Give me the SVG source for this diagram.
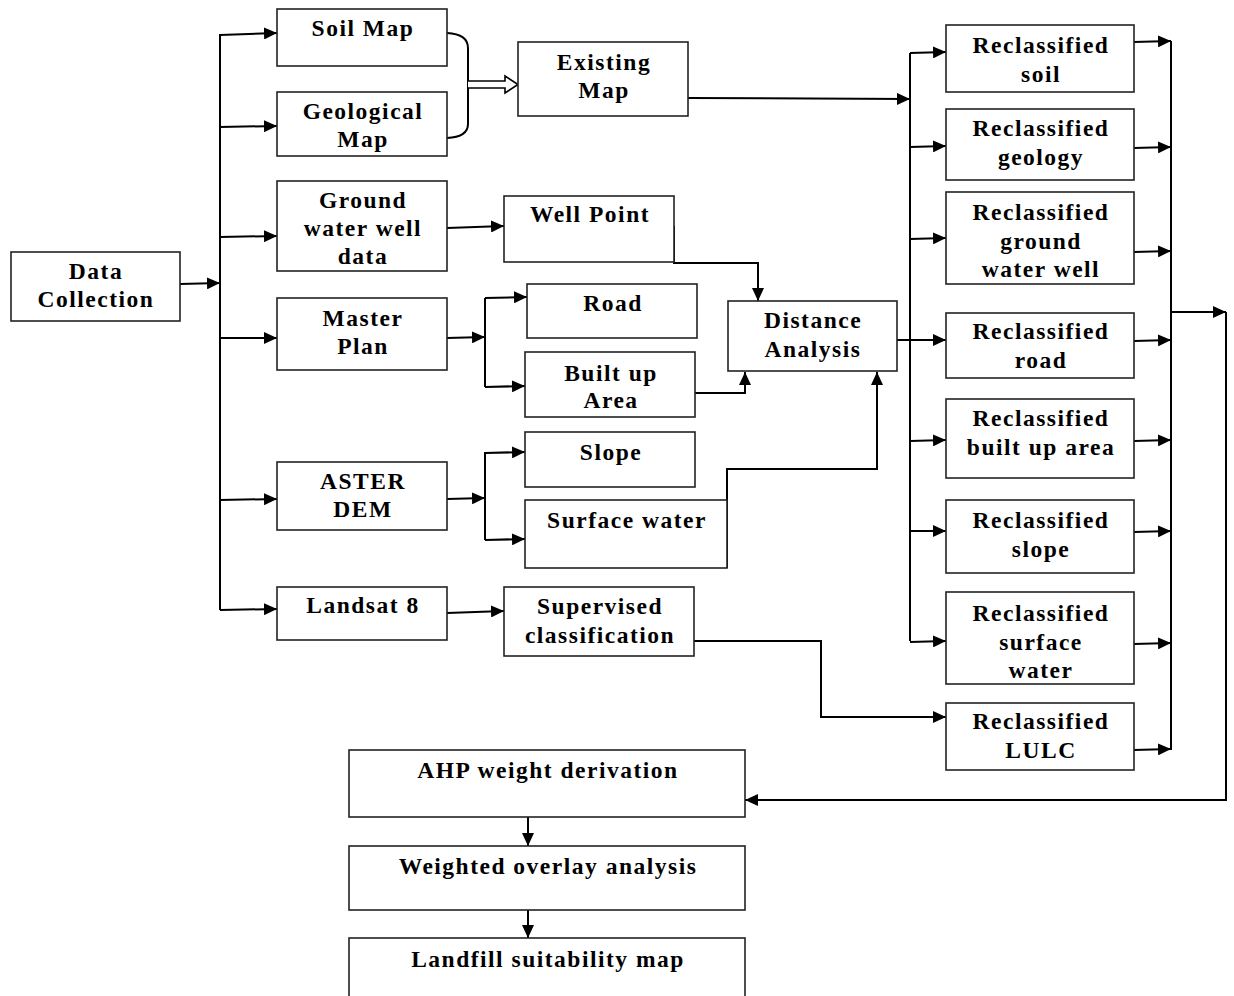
<svg xmlns="http://www.w3.org/2000/svg" width="1234" height="996" viewBox="0 0 1234 996">
<style>
.box{fill:#fff;stroke:#222;stroke-width:1.6}
.t{font-family:"Liberation Serif","Times New Roman",serif;font-weight:bold;font-size:23.5px;letter-spacing:1.5px;text-anchor:middle;fill:#000}
.c{fill:none;stroke:#000;stroke-width:2}
.a{fill:none;stroke:#000;stroke-width:2;marker-end:url(#ah)}
</style>
<defs>
<marker id="ah" markerUnits="userSpaceOnUse" markerWidth="13" markerHeight="12" refX="13" refY="6" orient="auto">
<path d="M0,0 L13,6 L0,12 z" fill="#000"/>
</marker>
</defs>
<rect width="1234" height="996" fill="#fff"/>
<g id="connectors">
<path class="a" d="M180,284 L220,283"/>
<path class="c" d="M220,34 L220,610"/>
<path class="a" d="M220,35 L277,33"/>
<path class="a" d="M220,127 L277,126"/>
<path class="a" d="M220,237 L277,236"/>
<path class="a" d="M220,338 L277,338"/>
<path class="a" d="M220,500 L277,499"/>
<path class="a" d="M220,610 L277,609"/>
<path class="c" d="M447,33 Q468,34 468,48 L468,124 Q468,137 447,138"/>
<path d="M468,81 L505,81 L505,76 L518,84.5 L505,93 L505,88 L468,88" fill="#fff" stroke="#000" stroke-width="1.6"/>
<path class="a" d="M688,98 L910,99"/>
<path class="a" d="M447,228 L504,226"/>
<path class="a" d="M447,338 L485,337"/>
<path class="c" d="M485,298 L485,387"/>
<path class="a" d="M485,298 L527,297"/>
<path class="a" d="M485,387 L525,386"/>
<path class="a" d="M447,499 L485,498"/>
<path class="c" d="M485,452 L485,540"/>
<path class="a" d="M485,453 L525,452"/>
<path class="a" d="M485,540 L525,539"/>
<path class="a" d="M447,613 L504,611"/>
<path class="a" d="M674,226 L674,263 L758,263 L758,301"/>
<path class="a" d="M695,393 L745,393 L745,372"/>
<path class="a" d="M727,568 L727,469 L877,469 L877,372"/>
<path class="a" d="M694,641 L821,641 L821,717 L946,717"/>
<path class="a" d="M897,340 L946,340"/>
<path class="c" d="M910,53 L910,641"/>
<path class="a" d="M910,53 L946,52"/>
<path class="a" d="M910,147 L946,146"/>
<path class="a" d="M910,239 L946,238"/>
<path class="a" d="M910,441 L946,440"/>
<path class="a" d="M910,531 L946,531"/>
<path class="a" d="M910,642 L946,641"/>
<path class="a" d="M1134,42 L1171,41"/>
<path class="a" d="M1134,148 L1171,147"/>
<path class="a" d="M1134,252 L1171,251"/>
<path class="a" d="M1134,341 L1171,340"/>
<path class="a" d="M1134,441 L1171,440"/>
<path class="a" d="M1134,532 L1171,531"/>
<path class="a" d="M1134,644 L1171,643"/>
<path class="a" d="M1134,750 L1171,749"/>
<path class="c" d="M1171,41 L1171,750"/>
<path class="a" d="M1171,312 L1226,312"/>
<path class="a" d="M1226,312 L1226,800 L745,800"/>
<path class="a" d="M528,817 L528,846"/>
<path class="a" d="M528,910 L528,938"/>
</g>
<g id="data-collection"><rect class="box" x="11" y="252" width="169" height="69"/><text class="t" x="96" y="279">Data</text><text class="t" x="96" y="307">Collection</text></g>
<g id="soil-map"><rect class="box" x="277" y="9" width="170" height="57"/><text class="t" x="363" y="36">Soil Map</text></g>
<g id="geological-map"><rect class="box" x="277" y="92" width="170" height="64"/><text class="t" x="363" y="119">Geological</text><text class="t" x="363" y="147">Map</text></g>
<g id="groundwater-data"><rect class="box" x="277" y="181" width="170" height="90"/><text class="t" x="363" y="208">Ground</text><text class="t" x="363" y="236">water well</text><text class="t" x="363" y="264">data</text></g>
<g id="master-plan"><rect class="box" x="277" y="298" width="170" height="72"/><text class="t" x="363" y="326">Master</text><text class="t" x="363" y="354">Plan</text></g>
<g id="aster-dem"><rect class="box" x="277" y="462" width="170" height="68"/><text class="t" x="363" y="489">ASTER</text><text class="t" x="363" y="517">DEM</text></g>
<g id="landsat"><rect class="box" x="277" y="587" width="170" height="53"/><text class="t" x="363" y="613">Landsat 8</text></g>
<g id="existing-map"><rect class="box" x="518" y="42" width="170" height="74"/><text class="t" x="604" y="70">Existing</text><text class="t" x="604" y="98">Map</text></g>
<g id="well-point"><rect class="box" x="504" y="196" width="170" height="66"/><text class="t" x="590" y="222">Well Point</text></g>
<g id="road"><rect class="box" x="527" y="284" width="170" height="54"/><text class="t" x="613" y="311">Road</text></g>
<g id="built-up"><rect class="box" x="525" y="352" width="170" height="65"/><text class="t" x="611" y="381">Built up</text><text class="t" x="611" y="408">Area</text></g>
<g id="slope"><rect class="box" x="525" y="432" width="170" height="55"/><text class="t" x="611" y="460">Slope</text></g>
<g id="surface-water"><rect class="box" x="525" y="500" width="202" height="68"/><text class="t" x="627" y="528">Surface water</text></g>
<g id="distance-analysis"><rect class="box" x="728" y="301" width="169" height="70"/><text class="t" x="813" y="328">Distance</text><text class="t" x="813" y="357">Analysis</text></g>
<g id="supervised"><rect class="box" x="504" y="587" width="190" height="69"/><text class="t" x="600" y="614">Supervised</text><text class="t" x="600" y="643">classification</text></g>
<g id="r-soil"><rect class="box" x="946" y="25" width="188" height="67"/><text class="t" x="1041" y="53">Reclassified</text><text class="t" x="1041" y="82">soil</text></g>
<g id="r-geology"><rect class="box" x="946" y="109" width="188" height="71"/><text class="t" x="1041" y="136">Reclassified</text><text class="t" x="1041" y="165">geology</text></g>
<g id="r-gw"><rect class="box" x="946" y="192" width="188" height="92"/><text class="t" x="1041" y="220">Reclassified</text><text class="t" x="1041" y="249">ground</text><text class="t" x="1041" y="277">water well</text></g>
<g id="r-road"><rect class="box" x="946" y="313" width="188" height="65"/><text class="t" x="1041" y="339">Reclassified</text><text class="t" x="1041" y="368">road</text></g>
<g id="r-built"><rect class="box" x="946" y="399" width="188" height="79"/><text class="t" x="1041" y="426">Reclassified</text><text class="t" x="1041" y="455">built up area</text></g>
<g id="r-slope"><rect class="box" x="946" y="500" width="188" height="73"/><text class="t" x="1041" y="528">Reclassified</text><text class="t" x="1041" y="557">slope</text></g>
<g id="r-surface"><rect class="box" x="946" y="592" width="188" height="92"/><text class="t" x="1041" y="621">Reclassified</text><text class="t" x="1041" y="650">surface</text><text class="t" x="1041" y="678">water</text></g>
<g id="r-lulc"><rect class="box" x="946" y="703" width="188" height="67"/><text class="t" x="1041" y="729">Reclassified</text><text class="t" x="1041" y="758">LULC</text></g>
<g id="ahp"><rect class="box" x="349" y="750" width="396" height="67"/><text class="t" x="548" y="778">AHP weight derivation</text></g>
<g id="weighted-overlay"><rect class="box" x="349" y="846" width="396" height="64"/><text class="t" x="548" y="874">Weighted overlay analysis</text></g>
<g id="landfill"><rect class="box" x="349" y="938" width="396" height="70"/><text class="t" x="548" y="967">Landfill suitability map</text></g>
</svg>
